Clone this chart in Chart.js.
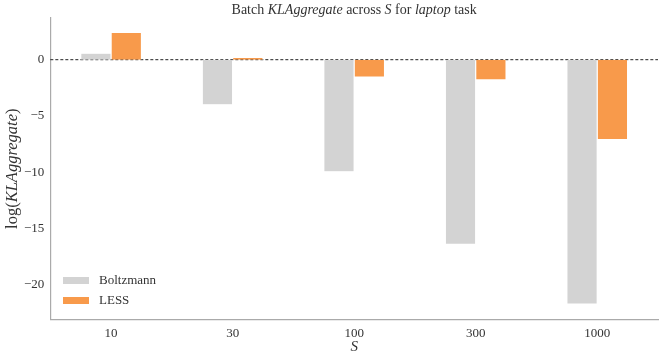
<!DOCTYPE html>
<html>
<head>
<meta charset="utf-8">
<script src="https://cdn.jsdelivr.net/npm/chart.js@4.4.1/dist/chart.umd.min.js"></script>
<style>
  html, body { margin: 0; padding: 0; background: #fff; }
  #wrap { width: 665px; height: 359px; }
</style>
</head>
<body>
<div id="wrap"><canvas id="klChart"></canvas></div>
<script>
const categories = ["10", "30", "100", "300", "1000"];
const boltzmann = [0.57, -4.0, -9.95, -16.4, -21.7];
const less = [2.43, 0.2, -1.55, -1.8, -7.1];
const yTicks = [-20, -15, -10, -5, 0];

const serif = "'Liberation Serif', 'DejaVu Serif', serif";
const grey = "#d3d3d3";
const orange = "#f89a4b";

// draw a line of text made of plain/italic pieces
function drawMixed(ctx, parts, x, y, size) {
    let total = 0;
    parts.forEach(p => {
        ctx.font = (p[1] ? "italic " : "") + size + "px " + serif;
        total += ctx.measureText(p[0]).width;
    });
    let cx = x - total / 2;
    parts.forEach(p => {
        ctx.font = (p[1] ? "italic " : "") + size + "px " + serif;
        ctx.fillText(p[0], cx, y);
        cx += ctx.measureText(p[0]).width;
    });
}

const extras = {
    id: "extras",
    beforeDatasetsDraw(chart) {
        const { ctx, chartArea, scales } = chart;
        const y0 = scales.y.getPixelForValue(0);
        ctx.save();
        ctx.strokeStyle = "#222";
        ctx.lineWidth = 1;
        ctx.setLineDash([3, 2]);
        ctx.beginPath();
        ctx.moveTo(chartArea.left, y0);
        ctx.lineTo(chartArea.right, y0);
        ctx.stroke();
        ctx.restore();
    },
    afterDraw(chart) {
        const { ctx, chartArea } = chart;
        const midX = (chartArea.left + chartArea.right) / 2;
        ctx.save();
        ctx.fillStyle = "#333";
        ctx.textBaseline = "middle";
        drawMixed(ctx, [["Batch ", false], ["KLAggregate", true], [" across ", false], ["S", true], [" for ", false], ["laptop", true], [" task", false]],
            midX, 10, 14);
        drawMixed(ctx, [["S", true]], midX, 347, 15);

        // y axis title
        ctx.translate(13, (chartArea.top + chartArea.bottom) / 2);
        ctx.rotate(-Math.PI / 2);
        drawMixed(ctx, [["log(", false], ["KLAggregate", true], [")", false]], 0, 0, 16.5);
        ctx.restore();

        // legend inside plot
        ctx.save();
        ctx.textBaseline = "middle";
        ctx.font = "13px " + serif;
        const items = [["Boltzmann", grey], ["LESS", orange]];
        items.forEach((it, i) => {
            const yy = 280.5 + i * 20;
            ctx.fillStyle = it[1];
            ctx.fillRect(63, yy - 3.5, 26, 7);
            ctx.fillStyle = "#333";
            ctx.fillText(it[0], 99, yy);
        });
        ctx.restore();
    }
};

const ctx = document.getElementById("klChart").getContext("2d");
new Chart(ctx, {
    type: "bar",
    data: {
        labels: categories,
        datasets: [
            { label: "Boltzmann", data: boltzmann, backgroundColor: grey, borderColor: "#ffffff", borderWidth: 0.6 },
            { label: "LESS", data: less, backgroundColor: orange, borderColor: "#ffffff", borderWidth: 0.6 }
        ]
    },
    options: {
        responsive: true,
        maintainAspectRatio: false,
        animation: false,
        layout: { padding: { top: 18, right: 7, left: 18, bottom: 12 } },
        plugins: {
            legend: { display: false },
            tooltip: { enabled: false }
        },
        datasets: { bar: { categoryPercentage: 0.5, barPercentage: 1.0 } },
        scales: {
            x: {
                grid: { display: false, drawTicks: false },
                border: { color: "#aaa", width: 1.2 },
                ticks: { color: "#333", font: { family: serif, size: 13 }, padding: 6 }
            },
            y: {
                min: -23.05,
                max: 3.7,
                afterBuildTicks(scale) { scale.ticks = yTicks.map(v => ({ value: v })); },
                grid: { display: false, drawTicks: false },
                border: { color: "#aaa", width: 1.2 },
                ticks: {
                    color: "#333",
                    font: { family: serif, size: 13 },
                    padding: 6,
                    callback: v => (v < 0 ? "\u2212" + Math.abs(v) : String(v))
                }
            }
        }
    },
    plugins: [extras]
});
</script>
</body>
</html>
